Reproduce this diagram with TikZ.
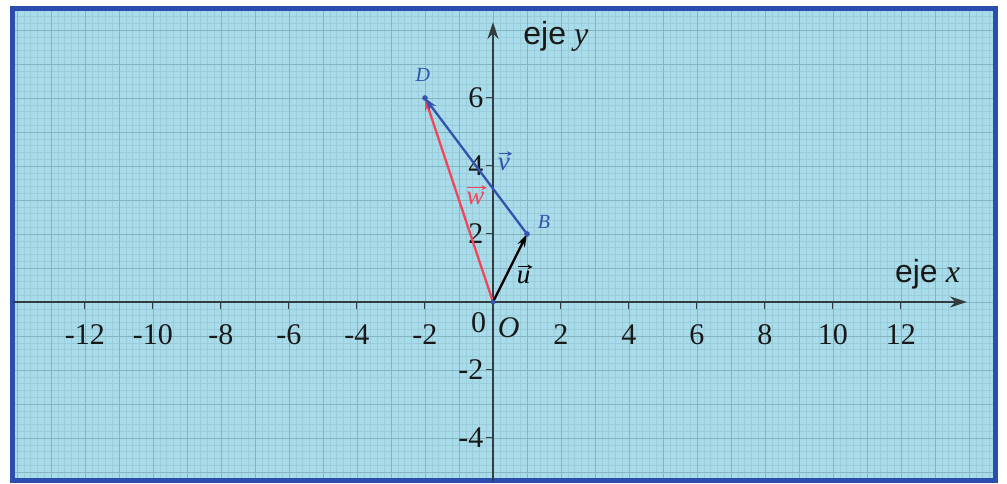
\documentclass[tikz,border=0pt]{standalone}
\usepackage{fontspec}
\setmainfont{Liberation Serif}
\newfontfamily\sansf{Liberation Sans}
\usetikzlibrary{arrows.meta}
\definecolor{paper}{HTML}{A8DCEA}
\definecolor{gridminor}{HTML}{9ACDD9}
\definecolor{gridmajor}{HTML}{84B5C1}
\definecolor{frameblue}{HTML}{2C4DAE}
\definecolor{vblue}{HTML}{3552B0}
\definecolor{wred}{HTML}{F0455A}
\definecolor{axiscol}{HTML}{333C3E}
\tikzset{
  axisline/.style={axiscol, line width=2pt, -{Stealth[length=17pt,width=11pt]}},
  vecline/.style={line width=2.3pt, -{Stealth[length=13pt,width=8pt]}},
  ticklab/.style={font=\fontsize{30}{32}\selectfont, text=black!90, inner sep=0pt},
  ptlab/.style={font=\fontsize{20}{22}\selectfont\itshape, text=vblue, inner sep=0pt},
  veclab/.style={font=\fontsize{27}{29}\selectfont\itshape, inner sep=0pt},
  overarrow/.style={line width=1.1pt, -{Stealth[length=5pt,width=5pt]}},
  axlab/.style={font=\fontsize{32}{34}\selectfont, text=black!90, inner sep=0pt},
  tickmark/.style={axiscol, line width=1pt}
}
\begin{document}
\begin{tikzpicture}[x=34pt,y=34pt]
\useasboundingbox (-14.5,-5.353) rectangle (15.118,8.882);
\fill[white] (-14.5,-5.353) rectangle (15.118,8.882);
\fill[paper] (-14.118,-5.265) rectangle (14.765,8.618);
\begin{scope}
  \clip (-14.118,-5.265) rectangle (14.765,8.618);
  \draw[gridminor, line width=0.5pt, step=0.2] (-14.4,-5.4) grid (15,8.8);
  \draw[gridmajor, line width=0.8pt, step=1] (-14.4,-5.4) grid (15,8.8);
\end{scope}
\draw[frameblue, line width=5pt] (-14.118,-5.265) rectangle (14.765,8.618);
% axes
\coordinate (xl) at (-14.118,0);
\coordinate (xr) at (13.94,0);
\coordinate (yb) at (0,-5.265);
\coordinate (yt) at (0,8.235);
\draw[axisline] (xl) -- (xr);
\draw[axisline] (yb) -- (yt);
\foreach \x in {-12,-10,-8,-6,-4,-2,2,4,6,8,10,12} {
  \coordinate (tx\x) at (\x,0);
  \draw[tickmark] (tx\x) -- ++(0,-0.2);
  \node[ticklab] (lx\x) at (\x,-0.97) {\x};
}
\foreach \y in {-4,-2,2,4,6} {
  \coordinate (ty\y) at (0,\y);
  \draw[tickmark] (ty\y) -- ++(-0.2,0);
  \node[ticklab, anchor=east] (ly\y) at (-0.28,\y) {\y};
}
\node[ticklab] (zero) at (-0.42,-0.6) {0};
\node[ticklab, font=\fontsize{30}{32}\selectfont\itshape] (Olab) at (0.46,-0.75) {O};
\node[axlab] (ejey) at (1.85,7.8) {{\sansf eje} \textit{y}};
\node[axlab] (ejex) at (12.78,0.82) {{\sansf eje} \textit{x}};
% points
\coordinate (O) at (0,0);
\coordinate (B) at (1,2);
\coordinate (D) at (-2,6);
\draw[vecline, wred] (O) -- (D);
\draw[vecline, vblue] (B) -- (D);
\draw[vecline, black] (O) -- (B);
\fill[vblue] (B) circle (2.8pt);
\fill[vblue] (D) circle (2.8pt);
\fill[vblue] (O) circle (2.4pt);
\node[ptlab] (Dlab) at (-2.06,6.68) {D};
\node[ptlab] (Blab) at (1.5,2.35) {B};
\node[veclab, text=black] (ulab) at (0.9,0.72) {u};
\node[veclab, text=vblue] (vlab) at (0.32,4.05) {v};
\node[veclab, text=wred] (wlab) at (-0.52,3.05) {w};
\draw[overarrow, black] ([xshift=1pt,yshift=4pt]ulab.north west) -- ([xshift=2pt,yshift=4pt]ulab.north east);
\draw[overarrow, vblue] ([xshift=1pt,yshift=4pt]vlab.north west) -- ([xshift=2pt,yshift=4pt]vlab.north east);
\draw[overarrow, wred] ([xshift=1pt,yshift=4pt]wlab.north west) -- ([xshift=2pt,yshift=4pt]wlab.north east);
\end{tikzpicture}
\end{document}
